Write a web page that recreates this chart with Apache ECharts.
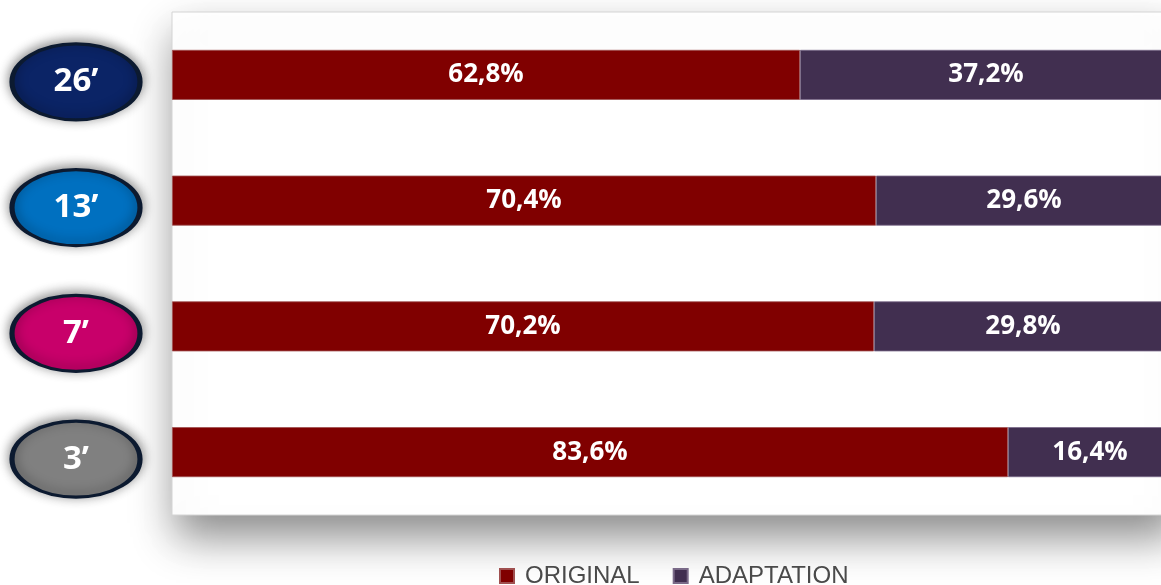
<!DOCTYPE html>
<html>
<head>
<meta charset="utf-8">
<title>Original vs Adaptation</title>
<script src="https://cdn.jsdelivr.net/npm/echarts@6/dist/echarts.min.js"></script>
<style>
	html,body{margin:0;padding:0;background:#fff;}
	#main{width:1161px;height:585px;}
</style>
</head>
<body>
<div id="main"></div>
<script>
// 时长分类（从上到下）
var categories = ['26’', '13’', '7’', '3’'];
// 原创占比
var originalData = [62.8, 70.4, 70.2, 83.6];
// 改编占比
var adaptationData = [37.2, 29.6, 29.8, 16.4];
// 椭圆颜色
var ellipseColors = ['#0b2466', '#0070c0', '#c8006a', '#808080'];

var myChart = echarts.init(document.getElementById('main'));

function pct(p){
	return p.value.toFixed(1).replace('.', ',') + '%';
}

var barLabel = {
	show: true,
	position: 'inside',
	color: '#fff',
	fontFamily: 'Open Sans',
	fontWeight: 'bold',
	fontSize: 26,
	formatter: pct
};

var option = {
	backgroundColor: '#fff',
	animation: false,
	legend: {
		left: 499,
		top: 564,
		padding: 0,
		itemWidth: 14,
		itemHeight: 14,
		itemGap: 33,
		icon: 'rect',
		textStyle: {
			color: '#4a4a4a',
			fontFamily: 'Liberation Sans',
			fontSize: 24,
			padding: [0, 0, 0, 6]
		},
		data: ['ORIGINAL', 'ADAPTATION']
	},
	grid: [
		{
			left: 172,
			top: 12,
			width: 1000,
			height: 503,
			outerBoundsMode: 'none',
			show: true,
			backgroundColor: '#fff',
			borderColor: '#d4d4d4',
			borderWidth: 1,
			shadowBlur: 40,
			shadowOffsetY: 22,
			shadowOffsetX: 4,
			shadowColor: 'rgba(0,0,0,0.45)'
		},
		{
			left: 10,
			top: 19,
			width: 132,
			height: 503,
			outerBoundsMode: 'none'
		}
	],
	xAxis: [
		{ gridIndex: 0, type: 'value', min: 0, max: 100, show: false },
		{ gridIndex: 1, type: 'category', data: [''], show: false }
	],
	yAxis: [
		{ gridIndex: 0, type: 'category', inverse: true, data: categories, show: false },
		{ gridIndex: 1, type: 'category', inverse: true, data: categories, show: false }
	],
	series: [
		{
			name: 'ORIGINAL',
			type: 'bar',
			stack: 'total',
			barWidth: 50,
			data: originalData,
			itemStyle: { color: '#800000', borderColor: '#a05050', borderWidth: 0.8 },
			label: barLabel
		},
		{
			name: 'ADAPTATION',
			type: 'bar',
			stack: 'total',
			barWidth: 50,
			data: adaptationData,
			itemStyle: { color: '#412f50', borderColor: '#7a6a88', borderWidth: 0.8 },
			label: barLabel
		},
		{
			name: 'durations',
			type: 'scatter',
			xAxisIndex: 1,
			yAxisIndex: 1,
			clip: false,
			symbol: 'circle',
			symbolSize: [128, 76],
			data: categories.map(function(c, i){
				return {
					value: [0, c],
					itemStyle: { color: ellipseColors[i] }
				};
			}),
			itemStyle: {
				opacity: 1,
				borderColor: '#0c1a30',
				borderWidth: 4,
				shadowBlur: 12,
				shadowOffsetY: -2,
				shadowColor: 'rgba(0,0,0,0.45)'
			},
			label: {
				show: true,
				position: 'inside',
				color: '#fff',
				fontFamily: 'Open Sans',
				fontWeight: 'bold',
				fontSize: 33,
				formatter: function(p){ return p.value[1]; }
			}
		}
	]
};

myChart.setOption(option);
</script>
</body>
</html>
